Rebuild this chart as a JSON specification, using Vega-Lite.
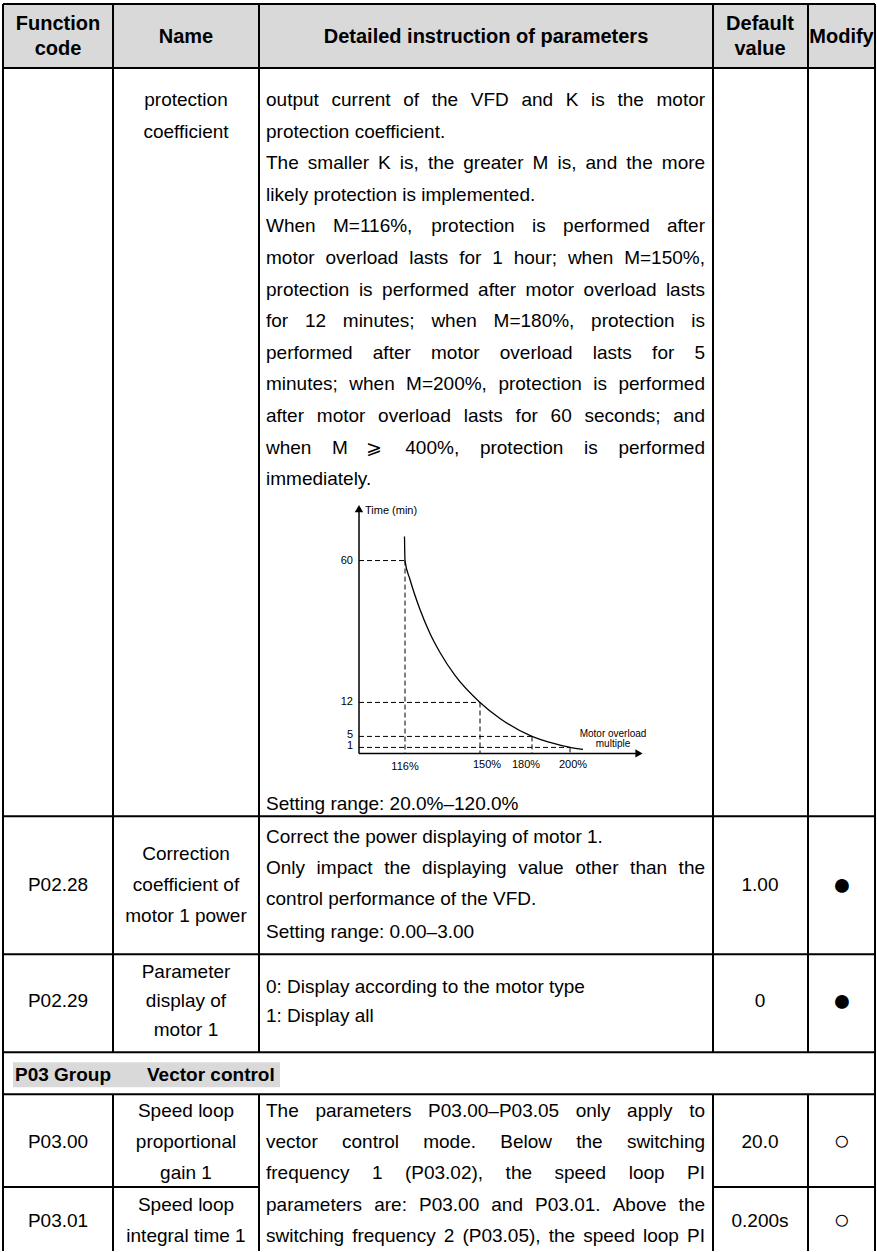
{
  "$schema": "https://vega.github.io/schema/vega-lite/v6.json",
  "width": 877,
  "height": 1252,
  "padding": 0,
  "autosize": {"type": "fit", "contains": "padding"},
  "background": "white",
  "config": {"view": {"stroke": null}},
  "datasets": {
    "fills": [
      {"x": 3, "x2": 875, "y": 4, "y2": 68},
      {"x": 13, "x2": 280, "y": 1063, "y2": 1088}
    ],
    "grid": [
      {"x": 3, "x2": 875, "y": 4, "y2": 4},
      {"x": 3, "x2": 875, "y": 68, "y2": 68},
      {"x": 3, "x2": 875, "y": 817, "y2": 817},
      {"x": 3, "x2": 875, "y": 955, "y2": 955},
      {"x": 3, "x2": 875, "y": 1053, "y2": 1053},
      {"x": 3, "x2": 875, "y": 1095, "y2": 1095},
      {"x": 3, "x2": 259, "y": 1188, "y2": 1188},
      {"x": 713, "x2": 875, "y": 1188, "y2": 1188},
      {"x": 3, "x2": 3, "y": 4, "y2": 1252},
      {"x": 875, "x2": 875, "y": 4, "y2": 1252},
      {"x": 113, "x2": 113, "y": 4, "y2": 1053},
      {"x": 113, "x2": 113, "y": 1095, "y2": 1252},
      {"x": 259, "x2": 259, "y": 4, "y2": 1053},
      {"x": 259, "x2": 259, "y": 1095, "y2": 1252},
      {"x": 713, "x2": 713, "y": 4, "y2": 1053},
      {"x": 713, "x2": 713, "y": 1095, "y2": 1252},
      {"x": 808, "x2": 808, "y": 4, "y2": 1053},
      {"x": 808, "x2": 808, "y": 1095, "y2": 1252}
    ],
    "head": [
      {"x": 58, "y": 24, "text": "Function"},
      {"x": 58, "y": 49, "text": "code"},
      {"x": 186, "y": 37, "text": "Name"},
      {"x": 486, "y": 37, "text": "Detailed instruction of parameters"},
      {"x": 760, "y": 24, "text": "Default"},
      {"x": 760, "y": 49, "text": "value"},
      {"x": 841.5, "y": 37, "text": "Modify"}
    ],
    "group": [
      {"x": 15, "y": 1076, "text": "P03 Group"},
      {"x": 147, "y": 1076, "text": "Vector control"}
    ],
    "cells": [
      {"x": 186, "y": 100, "text": "protection"},
      {"x": 186, "y": 132, "text": "coefficient"},
      {"x": 58, "y": 886, "text": "P02.28"},
      {"x": 186, "y": 855, "text": "Correction"},
      {"x": 186, "y": 886, "text": "coefficient of"},
      {"x": 186, "y": 917, "text": "motor 1 power"},
      {"x": 760, "y": 886, "text": "1.00"},
      {"x": 58, "y": 1002, "text": "P02.29"},
      {"x": 186, "y": 973, "text": "Parameter"},
      {"x": 186, "y": 1002, "text": "display of"},
      {"x": 186, "y": 1031, "text": "motor 1"},
      {"x": 760, "y": 1002, "text": "0"},
      {"x": 58, "y": 1143, "text": "P03.00"},
      {"x": 186, "y": 1112, "text": "Speed loop"},
      {"x": 186, "y": 1143, "text": "proportional"},
      {"x": 186, "y": 1174, "text": "gain 1"},
      {"x": 760, "y": 1143, "text": "20.0"},
      {"x": 58, "y": 1222, "text": "P03.01"},
      {"x": 186, "y": 1206, "text": "Speed loop"},
      {"x": 186, "y": 1237, "text": "integral time 1"},
      {"x": 760, "y": 1222, "text": "0.200s"}
    ],
    "symF": [
      {"x": 842, "y": 886, "text": "●"},
      {"x": 842, "y": 1002, "text": "●"}
    ],
    "symO": [
      {"x": 842, "y": 1143, "text": "○"},
      {"x": 842, "y": 1222, "text": "○"}
    ],
    "desc": [
      {"x": 266, "y": 100, "text": "output"},
      {"x": 331.5, "y": 100, "text": "current"},
      {"x": 403.2, "y": 100, "text": "of"},
      {"x": 431.7, "y": 100, "text": "the"},
      {"x": 470.8, "y": 100, "text": "VFD"},
      {"x": 521.4, "y": 100, "text": "and"},
      {"x": 565.7, "y": 100, "text": "K"},
      {"x": 591.1, "y": 100, "text": "is"},
      {"x": 617.4, "y": 100, "text": "the"},
      {"x": 656.5, "y": 100, "text": "motor"},
      {"x": 266, "y": 132, "text": "protection coefficient."},
      {"x": 266, "y": 163, "text": "The"},
      {"x": 307.8, "y": 163, "text": "smaller"},
      {"x": 378.1, "y": 163, "text": "K"},
      {"x": 399.8, "y": 163, "text": "is,"},
      {"x": 427.9, "y": 163, "text": "the"},
      {"x": 463.3, "y": 163, "text": "greater"},
      {"x": 532.6, "y": 163, "text": "M"},
      {"x": 557.5, "y": 163, "text": "is,"},
      {"x": 585.5, "y": 163, "text": "and"},
      {"x": 626.3, "y": 163, "text": "the"},
      {"x": 661.8, "y": 163, "text": "more"},
      {"x": 266, "y": 195, "text": "likely protection is implemented."},
      {"x": 266, "y": 226, "text": "When"},
      {"x": 333, "y": 226, "text": "M=116%,"},
      {"x": 431.2, "y": 226, "text": "protection"},
      {"x": 532, "y": 226, "text": "is"},
      {"x": 563.1, "y": 226, "text": "performed"},
      {"x": 667, "y": 226, "text": "after"},
      {"x": 266, "y": 258, "text": "motor"},
      {"x": 325.5, "y": 258, "text": "overload"},
      {"x": 409.2, "y": 258, "text": "lasts"},
      {"x": 459.2, "y": 258, "text": "for"},
      {"x": 492.3, "y": 258, "text": "1"},
      {"x": 513.7, "y": 258, "text": "hour;"},
      {"x": 567.9, "y": 258, "text": "when"},
      {"x": 624.2, "y": 258, "text": "M=150%,"},
      {"x": 266, "y": 290, "text": "protection"},
      {"x": 358.9, "y": 290, "text": "is"},
      {"x": 382.1, "y": 290, "text": "performed"},
      {"x": 478.1, "y": 290, "text": "after"},
      {"x": 525.6, "y": 290, "text": "motor"},
      {"x": 583.6, "y": 290, "text": "overload"},
      {"x": 665.9, "y": 290, "text": "lasts"},
      {"x": 266, "y": 321, "text": "for"},
      {"x": 304.9, "y": 321, "text": "12"},
      {"x": 342.8, "y": 321, "text": "minutes;"},
      {"x": 431.4, "y": 321, "text": "when"},
      {"x": 493.6, "y": 321, "text": "M=180%,"},
      {"x": 591.1, "y": 321, "text": "protection"},
      {"x": 691.3, "y": 321, "text": "is"},
      {"x": 266, "y": 353, "text": "performed"},
      {"x": 372.8, "y": 353, "text": "after"},
      {"x": 431, "y": 353, "text": "motor"},
      {"x": 499.8, "y": 353, "text": "overload"},
      {"x": 592.8, "y": 353, "text": "lasts"},
      {"x": 652.1, "y": 353, "text": "for"},
      {"x": 694.5, "y": 353, "text": "5"},
      {"x": 266, "y": 384, "text": "minutes;"},
      {"x": 349.3, "y": 384, "text": "when"},
      {"x": 406.1, "y": 384, "text": "M=200%,"},
      {"x": 498.4, "y": 384, "text": "protection"},
      {"x": 593.2, "y": 384, "text": "is"},
      {"x": 618.4, "y": 384, "text": "performed"},
      {"x": 266, "y": 416, "text": "after"},
      {"x": 316.8, "y": 416, "text": "motor"},
      {"x": 378.1, "y": 416, "text": "overload"},
      {"x": 463.8, "y": 416, "text": "lasts"},
      {"x": 515.6, "y": 416, "text": "for"},
      {"x": 550.6, "y": 416, "text": "60"},
      {"x": 584.5, "y": 416, "text": "seconds;"},
      {"x": 673.3, "y": 416, "text": "and"},
      {"x": 266, "y": 448, "text": "when"},
      {"x": 332.1, "y": 448, "text": "M"},
      {"x": 366, "y": 448, "text": "⩾"},
      {"x": 405.3, "y": 448, "text": "400%,"},
      {"x": 479.9, "y": 448, "text": "protection"},
      {"x": 584, "y": 448, "text": "is"},
      {"x": 618.4, "y": 448, "text": "performed"},
      {"x": 266, "y": 479, "text": "immediately."},
      {"x": 266, "y": 805, "text": "Setting range: 20.0%–120.0%"},
      {"x": 266, "y": 838, "text": "Correct the power displaying of motor 1."},
      {"x": 266, "y": 869, "text": "Only"},
      {"x": 316.6, "y": 869, "text": "impact"},
      {"x": 384.2, "y": 869, "text": "the"},
      {"x": 422.1, "y": 869, "text": "displaying"},
      {"x": 518.2, "y": 869, "text": "value"},
      {"x": 575.2, "y": 869, "text": "other"},
      {"x": 630.1, "y": 869, "text": "than"},
      {"x": 678.6, "y": 869, "text": "the"},
      {"x": 266, "y": 900, "text": "control performance of the VFD."},
      {"x": 266, "y": 933, "text": "Setting range: 0.00–3.00"},
      {"x": 266, "y": 988, "text": "0: Display according to the motor type"},
      {"x": 266, "y": 1017, "text": "1: Display all"},
      {"x": 266, "y": 1112, "text": "The"},
      {"x": 315.4, "y": 1112, "text": "parameters"},
      {"x": 428.1, "y": 1112, "text": "P03.00–P03.05"},
      {"x": 575.7, "y": 1112, "text": "only"},
      {"x": 627.1, "y": 1112, "text": "apply"},
      {"x": 689.2, "y": 1112, "text": "to"},
      {"x": 266, "y": 1143, "text": "vector"},
      {"x": 342, "y": 1143, "text": "control"},
      {"x": 423.2, "y": 1143, "text": "mode."},
      {"x": 500.3, "y": 1143, "text": "Below"},
      {"x": 576.2, "y": 1143, "text": "the"},
      {"x": 626.9, "y": 1143, "text": "switching"},
      {"x": 266, "y": 1174, "text": "frequency"},
      {"x": 371.9, "y": 1174, "text": "1"},
      {"x": 404.9, "y": 1174, "text": "(P03.02),"},
      {"x": 505.6, "y": 1174, "text": "the"},
      {"x": 554.4, "y": 1174, "text": "speed"},
      {"x": 628.7, "y": 1174, "text": "loop"},
      {"x": 687, "y": 1174, "text": "PI"},
      {"x": 266, "y": 1206, "text": "parameters"},
      {"x": 374.2, "y": 1206, "text": "are:"},
      {"x": 419, "y": 1206, "text": "P03.00"},
      {"x": 491.3, "y": 1206, "text": "and"},
      {"x": 535.1, "y": 1206, "text": "P03.01."},
      {"x": 612.7, "y": 1206, "text": "Above"},
      {"x": 678.6, "y": 1206, "text": "the"},
      {"x": 266, "y": 1237, "text": "switching"},
      {"x": 352.2, "y": 1237, "text": "frequency"},
      {"x": 443.8, "y": 1237, "text": "2"},
      {"x": 462.4, "y": 1237, "text": "(P03.05),"},
      {"x": 548.7, "y": 1237, "text": "the"},
      {"x": 583.2, "y": 1237, "text": "speed"},
      {"x": 643, "y": 1237, "text": "loop"},
      {"x": 687, "y": 1237, "text": "PI"}
    ],
    "dash": [
      {"x": 359, "x2": 405, "y": 561, "y2": 561},
      {"x": 405, "x2": 405, "y": 561, "y2": 754},
      {"x": 359, "x2": 480, "y": 703, "y2": 703},
      {"x": 480, "x2": 480, "y": 703, "y2": 754},
      {"x": 359, "x2": 532, "y": 737, "y2": 737},
      {"x": 532, "x2": 532, "y": 737, "y2": 754},
      {"x": 359, "x2": 570, "y": 748, "y2": 748},
      {"x": 570, "x2": 570, "y": 748, "y2": 754}
    ],
    "axes": [
      {"x": 359, "x2": 359, "y": 512, "y2": 754},
      {"x": 359, "x2": 636, "y": 754, "y2": 754}
    ],
    "arrows": [
      {"x": 359, "y": 509, "dir": "up"},
      {"x": 639, "y": 754, "dir": "right"}
    ],
    "curve": [
      {"i": 0, "x": 404.5, "y": 537},
      {"i": 1, "x": 405, "y": 561},
      {"i": 2, "x": 410, "y": 580},
      {"i": 3, "x": 420, "y": 610},
      {"i": 4, "x": 430, "y": 634},
      {"i": 5, "x": 440, "y": 653},
      {"i": 6, "x": 455, "y": 676},
      {"i": 7, "x": 480, "y": 703},
      {"i": 8, "x": 500, "y": 719},
      {"i": 9, "x": 532, "y": 737},
      {"i": 10, "x": 550, "y": 743},
      {"i": 11, "x": 570, "y": 748},
      {"i": 12, "x": 583, "y": 750}
    ],
    "clabL": [
      {"x": 365, "y": 511, "text": "Time (min)"}
    ],
    "clabR": [
      {"x": 353, "y": 561, "text": "60"},
      {"x": 353, "y": 703, "text": "12"},
      {"x": 353, "y": 736, "text": "5"},
      {"x": 353, "y": 747, "text": "1"}
    ],
    "clabC": [
      {"x": 405, "y": 768, "text": "116%"},
      {"x": 487, "y": 766, "text": "150%"},
      {"x": 526, "y": 766, "text": "180%"},
      {"x": 573, "y": 766, "text": "200%"}
    ],
    "clabS": [
      {"x": 613, "y": 735, "text": "Motor overload"},
      {"x": 613, "y": 745, "text": "multiple"}
    ]
  },
  "layer": [
    {
      "data": {"name": "fills"},
      "mark": {"type": "rect", "color": "#d9d9d9"},
      "encoding": {
        "x": {"field": "x", "type": "quantitative", "scale": {"domain": [0, 877], "nice": false, "zero": false}, "axis": null},
        "x2": {"field": "x2"},
        "y": {"field": "y", "type": "quantitative", "scale": {"domain": [0, 1252], "nice": false, "zero": false, "reverse": true}, "axis": null},
        "y2": {"field": "y2"}
      }
    },
    {
      "data": {"name": "grid"},
      "mark": {"type": "rule", "color": "#000000", "strokeWidth": 2},
      "encoding": {
        "x": {"field": "x", "type": "quantitative", "axis": null},
        "x2": {"field": "x2"},
        "y": {"field": "y", "type": "quantitative", "axis": null},
        "y2": {"field": "y2"}
      }
    },
    {
      "data": {"name": "head"},
      "mark": {"type": "text", "font": "Liberation Sans", "fontSize": 20, "fontWeight": "bold", "align": "center", "baseline": "middle", "color": "#000000"},
      "encoding": {
        "x": {"field": "x", "type": "quantitative", "axis": null},
        "y": {"field": "y", "type": "quantitative", "axis": null},
        "text": {"field": "text"}
      }
    },
    {
      "data": {"name": "group"},
      "mark": {"type": "text", "font": "Liberation Sans", "fontSize": 19, "fontWeight": "bold", "align": "left", "baseline": "middle", "color": "#000000"},
      "encoding": {
        "x": {"field": "x", "type": "quantitative", "axis": null},
        "y": {"field": "y", "type": "quantitative", "axis": null},
        "text": {"field": "text"}
      }
    },
    {
      "data": {"name": "cells"},
      "mark": {"type": "text", "font": "Liberation Sans", "fontSize": 19, "align": "center", "baseline": "middle", "color": "#000000"},
      "encoding": {
        "x": {"field": "x", "type": "quantitative", "axis": null},
        "y": {"field": "y", "type": "quantitative", "axis": null},
        "text": {"field": "text"}
      }
    },
    {
      "data": {"name": "symF"},
      "mark": {"type": "text", "font": "Liberation Sans", "fontSize": 32, "align": "center", "baseline": "middle", "color": "#000000"},
      "encoding": {
        "x": {"field": "x", "type": "quantitative", "axis": null},
        "y": {"field": "y", "type": "quantitative", "axis": null},
        "text": {"field": "text"}
      }
    },
    {
      "data": {"name": "symO"},
      "mark": {"type": "text", "font": "Liberation Sans", "fontSize": 28, "align": "center", "baseline": "middle", "color": "#000000"},
      "encoding": {
        "x": {"field": "x", "type": "quantitative", "axis": null},
        "y": {"field": "y", "type": "quantitative", "axis": null},
        "text": {"field": "text"}
      }
    },
    {
      "data": {"name": "desc"},
      "mark": {"type": "text", "font": "Liberation Sans", "fontSize": 19, "align": "left", "baseline": "middle", "color": "#000000"},
      "encoding": {
        "x": {"field": "x", "type": "quantitative", "axis": null},
        "y": {"field": "y", "type": "quantitative", "axis": null},
        "text": {"field": "text"}
      }
    },
    {
      "data": {"name": "dash"},
      "mark": {"type": "rule", "color": "#000000", "strokeWidth": 1, "strokeDash": [5, 3]},
      "encoding": {
        "x": {"field": "x", "type": "quantitative", "axis": null},
        "x2": {"field": "x2"},
        "y": {"field": "y", "type": "quantitative", "axis": null},
        "y2": {"field": "y2"}
      }
    },
    {
      "data": {"name": "axes"},
      "mark": {"type": "rule", "color": "#000000", "strokeWidth": 1.5},
      "encoding": {
        "x": {"field": "x", "type": "quantitative", "axis": null},
        "x2": {"field": "x2"},
        "y": {"field": "y", "type": "quantitative", "axis": null},
        "y2": {"field": "y2"}
      }
    },
    {
      "data": {"name": "arrows"},
      "mark": {"type": "point", "filled": true, "color": "#000000", "size": 70, "opacity": 1},
      "encoding": {
        "x": {"field": "x", "type": "quantitative", "axis": null},
        "y": {"field": "y", "type": "quantitative", "axis": null},
        "shape": {"field": "dir", "type": "nominal", "scale": {"domain": ["up", "right"], "range": ["triangle-up", "triangle-right"]}, "legend": null}
      }
    },
    {
      "data": {"name": "curve"},
      "mark": {"type": "line", "color": "#000000", "strokeWidth": 1.3, "interpolate": "monotone"},
      "encoding": {
        "x": {"field": "x", "type": "quantitative", "axis": null},
        "y": {"field": "y", "type": "quantitative", "axis": null},
        "order": {"field": "i", "type": "quantitative"}
      }
    },
    {
      "data": {"name": "clabL"},
      "mark": {"type": "text", "font": "Liberation Sans", "fontSize": 11, "align": "left", "baseline": "middle", "color": "#000000"},
      "encoding": {
        "x": {"field": "x", "type": "quantitative", "axis": null},
        "y": {"field": "y", "type": "quantitative", "axis": null},
        "text": {"field": "text"}
      }
    },
    {
      "data": {"name": "clabR"},
      "mark": {"type": "text", "font": "Liberation Sans", "fontSize": 11, "align": "right", "baseline": "middle", "color": "#000000"},
      "encoding": {
        "x": {"field": "x", "type": "quantitative", "axis": null},
        "y": {"field": "y", "type": "quantitative", "axis": null},
        "text": {"field": "text"}
      }
    },
    {
      "data": {"name": "clabC"},
      "mark": {"type": "text", "font": "Liberation Sans", "fontSize": 11, "align": "center", "baseline": "middle", "color": "#000000"},
      "encoding": {
        "x": {"field": "x", "type": "quantitative", "axis": null},
        "y": {"field": "y", "type": "quantitative", "axis": null},
        "text": {"field": "text"}
      }
    },
    {
      "data": {"name": "clabS"},
      "mark": {"type": "text", "font": "Liberation Sans", "fontSize": 10, "align": "center", "baseline": "middle", "color": "#000000"},
      "encoding": {
        "x": {"field": "x", "type": "quantitative", "axis": null},
        "y": {"field": "y", "type": "quantitative", "axis": null},
        "text": {"field": "text"}
      }
    }
  ]
}
